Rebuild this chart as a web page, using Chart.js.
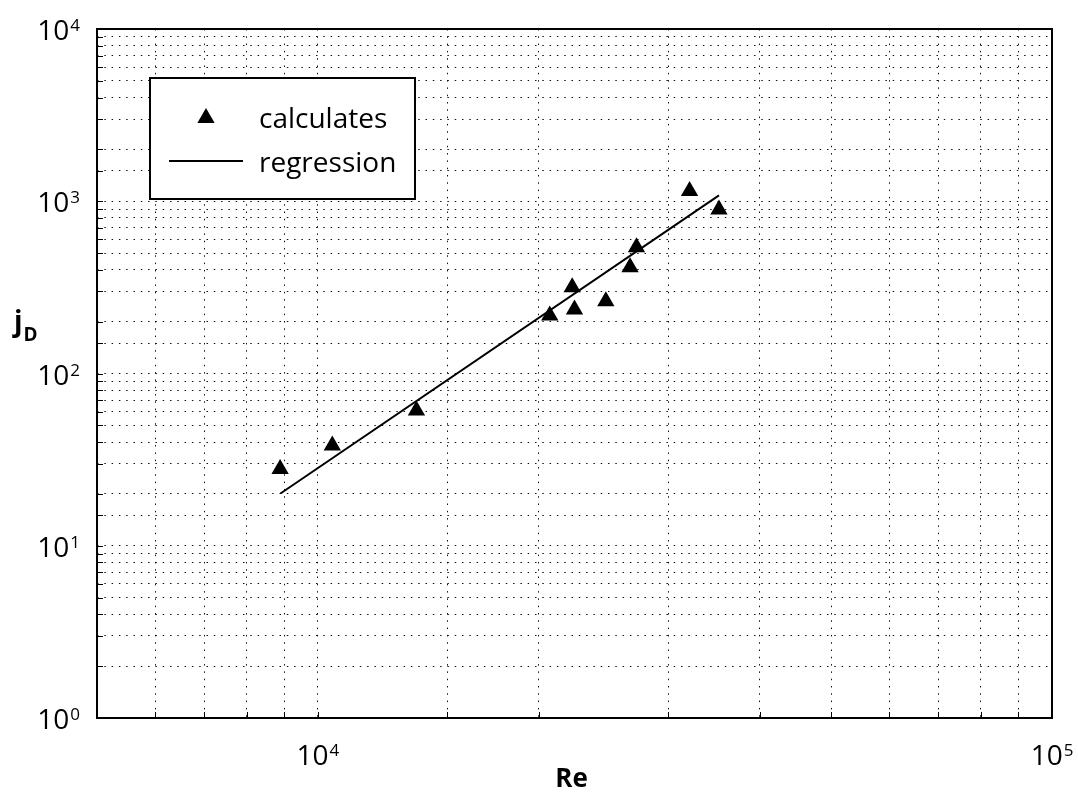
<!DOCTYPE html>
<html>
<head>
<meta charset="utf-8">
<script src="https://cdn.jsdelivr.net/npm/chart.js@4.4.0/dist/chart.umd.min.js"></script>
<style>
  html, body { margin: 0; padding: 0; background: #fff; }
  #wrap { width: 1078px; height: 792px; }
</style>
</head>
<body>
<div id="wrap"><canvas id="grafico" width="1078" height="792"></canvas></div>
<script>
// Valores (Re x jD), escala log-log
const reCalculado = [8880, 10460, 13620, 20690, 22200, 22360, 24670, 26620, 27160, 32080, 35180];
const jdCalculado = [27.9, 38.2, 61.0, 217, 317, 235, 263, 414, 541, 1145, 896];
const reRegressao = [8890, 35180];
const jdRegressao = [20.1, 1081];

// limites dos eixos e ticks com rótulo
const xLimites = [5000, 100000];
const yLimites = [1, 10000];
const xTicksRotulo = [1e4, 1e5];
const yTicksRotulo = [1, 10, 100, 1000, 10000];

const legendaTextos = ['calculates', 'regression'];
const tituloX = 'Re';

const FONTE = '"Open Sans", "DejaVu Sans", sans-serif';

// desenha "10" com expoente elevado
function desenhaPotencia(ctx, valor, x, y, alinhamento) {
    const base = '10';
    const exp = String(Math.round(Math.log10(valor)));
    ctx.font = '28px ' + FONTE;
    const wb = ctx.measureText(base).width;
    ctx.font = '17px ' + FONTE;
    const we = ctx.measureText(exp).width;
    const x0 = alinhamento === 'right' ? x - wb - we - 1 : x - (wb + we + 1) / 2;
    ctx.textAlign = 'left';
    ctx.textBaseline = 'alphabetic';
    ctx.fillStyle = '#000';
    ctx.font = '28px ' + FONTE;
    ctx.fillText(base, x0, y);
    ctx.font = '17px ' + FONTE;
    ctx.fillText(exp, x0 + wb + 1, y - 9);
}

const pluginMoldura = {
    id: 'moldura',
    afterDraw(chart) {
        const ctx = chart.ctx;
        const area = chart.chartArea;
        const sx = chart.scales.x;
        const sy = chart.scales.y;
        ctx.save();

        // moldura do gráfico
        ctx.strokeStyle = '#000';
        ctx.lineWidth = 2;
        ctx.strokeRect(area.left, area.top, area.right - area.left, area.bottom - area.top);

        // marcas internas nos eixos
        ctx.lineWidth = 1;
        ctx.beginPath();
        sx.ticks.forEach(t => {
            const px = Math.round(sx.getPixelForValue(t.value)) + 0.5;
            ctx.moveTo(px, area.bottom);
            ctx.lineTo(px, area.bottom - 6);
        });
        sy.ticks.forEach(t => {
            const py = Math.round(sy.getPixelForValue(t.value)) + 0.5;
            ctx.moveTo(area.left, py);
            ctx.lineTo(area.left + 6, py);
        });
        ctx.stroke();

        // rótulos dos eixos
        xTicksRotulo.forEach(v => desenhaPotencia(ctx, v, sx.getPixelForValue(v), area.bottom + 47, 'center'));
        yTicksRotulo.forEach(v => desenhaPotencia(ctx, v, 80, sy.getPixelForValue(v) + 11, 'right'));

        // título do eixo x
        ctx.font = 'bold 26px ' + FONTE;
        ctx.textAlign = 'center';
        ctx.fillText(tituloX, (area.left + area.right) / 2 - 3, 787);

        // título do eixo y: j com índice D
        ctx.textAlign = 'left';
        ctx.font = 'bold 28px ' + FONTE;
        ctx.fillText('j', 14, 331);
        const wj = ctx.measureText('j').width;
        ctx.font = 'bold 19px ' + FONTE;
        ctx.fillText('D', 14 + wj + 1, 341);

        // legenda
        ctx.fillStyle = '#fff';
        ctx.fillRect(150, 78, 265, 121);
        ctx.strokeStyle = '#000';
        ctx.lineWidth = 2;
        ctx.strokeRect(150, 78, 265, 121);

        Chart.helpers.drawPoint(ctx, { pointStyle: 'triangle', radius: 10, rotation: 0, borderWidth: 0 }, 206, 118);
        ctx.fillStyle = '#000';
        ctx.fill();

        ctx.beginPath();
        ctx.lineWidth = 2;
        ctx.moveTo(169, 161);
        ctx.lineTo(243, 161);
        ctx.stroke();

        ctx.fillStyle = '#000';
        ctx.font = '28px ' + FONTE;
        ctx.fillText(legendaTextos[0], 259, 128);
        ctx.fillText(legendaTextos[1], 259, 172);

        ctx.restore();
    }
};

const pontosCalculados = reCalculado.map((re, i) => ({ x: re, y: jdCalculado[i] }));
const pontosRegressao = reRegressao.map((re, i) => ({ x: re, y: jdRegressao[i] }));

const eixoComum = {
    type: 'logarithmic',
    ticks: { display: false, autoSkip: false },
    grid: {
        color: '#111',
        lineWidth: 1,
        drawTicks: false
    },
    border: { display: false, dash: [1.5, 5.8] }
};

const ctx = document.getElementById('grafico').getContext('2d');
const grafico = new Chart(ctx, {
    type: 'scatter',
    data: {
        datasets: [
            {
                label: legendaTextos[0],
                data: pontosCalculados,
                pointStyle: 'triangle',
                pointRadius: 10,
                pointBackgroundColor: '#000',
                pointBorderWidth: 0,
                showLine: false
            },
            {
                label: legendaTextos[1],
                data: pontosRegressao,
                showLine: true,
                borderColor: '#000',
                borderWidth: 2,
                pointRadius: 0
            }
        ]
    },
    options: {
        responsive: false,
        animation: false,
        layout: { padding: { left: 97, right: 26, top: 29, bottom: 74 } },
        plugins: {
            legend: { display: false },
            tooltip: { enabled: false }
        },
        scales: {
            x: Object.assign({}, eixoComum, { min: xLimites[0], max: xLimites[1] }),
            y: Object.assign({}, eixoComum, { min: yLimites[0], max: yLimites[1] })
        }
    },
    plugins: [pluginMoldura]
});
</script>
</body>
</html>
